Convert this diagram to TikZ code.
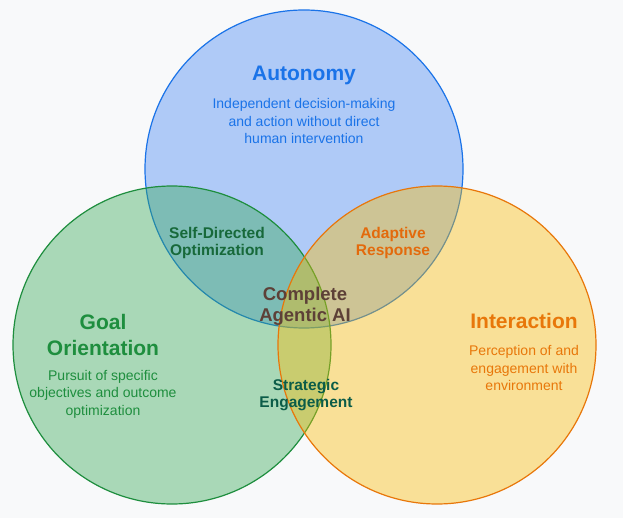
\documentclass[tikz,border=0pt]{standalone}
\usepackage{fontspec}
\setmainfont{Liberation Sans}
\definecolor{bgcol}{HTML}{F8F9FA}
\definecolor{gblue}{HTML}{4285F4}
\definecolor{ggreen}{HTML}{34A853}
\definecolor{gorange}{HTML}{FBBC04}
\definecolor{lblue}{HTML}{1A73E8}
\definecolor{lgreen}{HTML}{1E8E3E}
\definecolor{lorange}{HTML}{E8770A}
\definecolor{selfcol}{HTML}{17693A}
\definecolor{adaptcol}{HTML}{E36A0C}
\definecolor{corecol}{HTML}{5D4037}
\definecolor{stratcol}{HTML}{0B5C48}
\tikzset{
  ring/.style={line width=1.2pt, fill opacity=0.4},
  title/.style={font=\fontsize{21}{26.5}\selectfont\bfseries, align=center},
  desc/.style={font=\fontsize{14}{17.5}\selectfont, align=center},
  overlap/.style={font=\fontsize{15.5}{17.5}\selectfont\bfseries, align=center},
}
\begin{document}
\begin{tikzpicture}[x=1pt,y=-1pt]
\useasboundingbox (0,0) rectangle (623,518);
\fill[bgcol] (0,0) rectangle (623,518);
% the three sets
\draw[ring, draw=lblue, fill=gblue] (304,169) circle (159);
\draw[ring, draw=lgreen, fill=ggreen] (172,345) circle (159);
\draw[ring, draw=lorange, fill=gorange] (437,345) circle (159);
% set labels
\node[title, text=lblue] (auto) at (304,75) {Autonomy};
\node[desc, text=lblue] (autod) at (304,121) {Independent decision-making\\and action without direct\\human intervention};
\node[title, text=lgreen] (goal) at (103,335) {Goal\\Orientation};
\node[desc, text=lgreen] (goald) at (103,394) {Pursuit of specific\\objectives and outcome\\optimization};
\node[title, text=lorange] (inter) at (524,321) {Interaction};
\node[desc, text=lorange] (interd) at (524,368) {Perception of and\\engagement with\\environment};
% overlaps
\node[overlap, text=selfcol] (self) at (217,243) {Self-Directed\\Optimization};
\node[overlap, text=adaptcol] (adapt) at (393,243) {Adaptive\\Response};
\node[overlap, text=stratcol] (strat) at (306,395) {Strategic\\Engagement};
\node[font=\fontsize{18.5}{21}\selectfont\bfseries, align=center, text=corecol] (core) at (305,306) {Complete\\Agentic AI};
\end{tikzpicture}
\end{document}
